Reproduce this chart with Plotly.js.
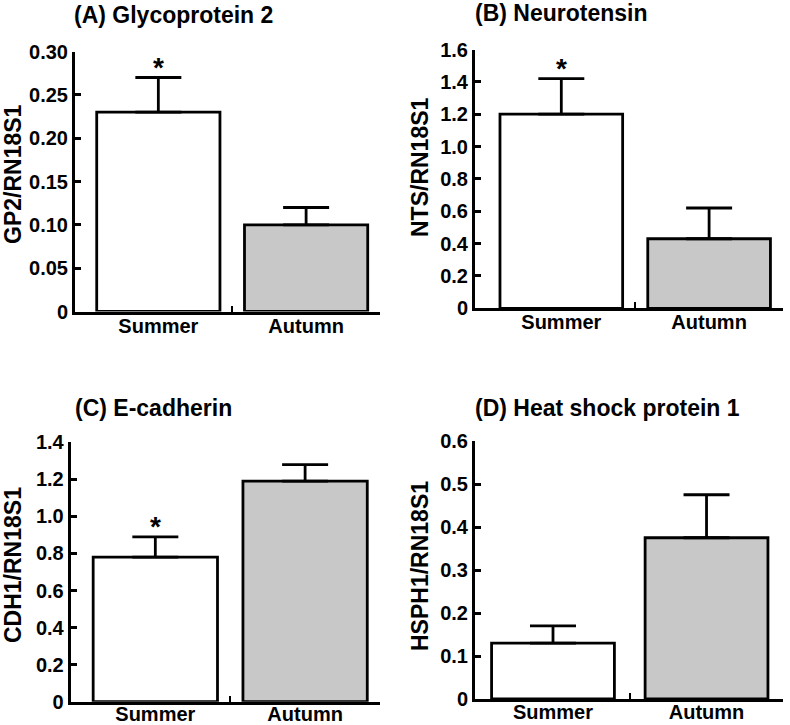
<!DOCTYPE html>
<html>
<head>
<meta charset="utf-8">
<script src="https://cdn.plot.ly/plotly-3.0.1.min.js"></script>
<style>html,body{margin:0;padding:0;background:#fff;}#chart{width:790px;height:725px;}</style>
</head>
<body>
<div id="chart"></div>
<script>
// ---- data ----
const categories = ['Summer', 'Autumn'];

const gp2Mean = [0.23, 0.10];
const gp2Err = [0.04, 0.02];
const gp2Sig = ['*', ''];
const gp2TickVals = [0, 0.05, 0.10, 0.15, 0.20, 0.25, 0.30];
const gp2TickText = ['0', '0.05', '0.10', '0.15', '0.20', '0.25', '0.30'];

const ntsMean = [1.20, 0.43];
const ntsErr = [0.22, 0.19];
const ntsSig = ['*', ''];
const ntsTickVals = [0, 0.2, 0.4, 0.6, 0.8, 1.0, 1.2, 1.4, 1.6];
const ntsTickText = ['0', '0.2', '0.4', '0.6', '0.8', '1.0', '1.2', '1.4', '1.6'];

const cdh1Mean = [0.78, 1.19];
const cdh1Err = [0.11, 0.09];
const cdh1Sig = ['*', ''];
const cdh1TickVals = [0, 0.2, 0.4, 0.6, 0.8, 1.0, 1.2, 1.4];
const cdh1TickText = ['0', '0.2', '0.4', '0.6', '0.8', '1.0', '1.2', '1.4'];

const hsph1Mean = [0.13, 0.375];
const hsph1Err = [0.04, 0.10];
const hsph1Sig = ['', ''];
const hsph1TickVals = [0, 0.1, 0.2, 0.3, 0.4, 0.5, 0.6];
const hsph1TickText = ['0', '0.1', '0.2', '0.3', '0.4', '0.5', '0.6'];

const panelTitles = ['(A) Glycoprotein 2', '(B) Neurotensin', '(C) E-cadherin', '(D) Heat shock protein 1'];
const yTitles = ['GP2/RN18S1', 'NTS/RN18S1', 'CDH1/RN18S1', 'HSPH1/RN18S1'];
const barColors = ['#ffffff', '#c8c8c8'];

// ---- layout helpers (pixel geometry) ----
const W = 790, H = 725;
const fx = p => p / W;
const fy = p => 1 - p / H;
const FONT = 'Liberation Sans, Arial, sans-serif';

const panels = [
  {mean: gp2Mean, err: gp2Err, sig: gp2Sig, tv: gp2TickVals, tt: gp2TickText,
   xpx: [75, 380], ypx: [51.5, 311.5], xr: [-0.564, 1.5], yr: [0, 0.30], bw: 0.834,
   title: [72, 15], ytitle: [13, 174], lab: -6},
  {mean: ntsMean, err: ntsErr, sig: ntsSig, tv: ntsTickVals, tt: ntsTickText,
   xpx: [475, 783], ypx: [49.5, 308.3], xr: [-0.584, 1.5], yr: [0, 1.6], bw: 0.83,
   title: [473, 13], ytitle: [420, 167], lab: -6},
  {mean: cdh1Mean, err: cdh1Err, sig: cdh1Sig, tv: cdh1TickVals, tt: cdh1TickText,
   xpx: [70.7, 380], ypx: [442.3, 701.7], xr: [-0.565, 1.5], yr: [0, 1.4], bw: 0.83,
   title: [73, 408], ytitle: [13, 565], lab: -8},
  {mean: hsph1Mean, err: hsph1Err, sig: hsph1Sig, tv: hsph1TickVals, tt: hsph1TickText,
   xpx: [475, 783.3], ypx: [441, 699], xr: [-0.508, 1.5], yr: [0, 0.6], bw: 0.80,
   title: [473, 408], ytitle: [420, 566], lab: -7}
];
const dividerTicks = [0.5, 1.5];

const data = [];
const layout = {
  width: W, height: H,
  margin: {l: 0, r: 0, t: 0, b: 0},
  paper_bgcolor: '#fff', plot_bgcolor: '#fff',
  showlegend: false,
  font: {family: FONT, color: '#000'},
  annotations: []
};

panels.forEach((p, i) => {
  const n = i + 1;
  const xa = n === 1 ? 'x' : 'x' + n;
  const ya = n === 1 ? 'y' : 'y' + n;
  const xs = categories.map((c, k) => k);
  data.push({
    type: 'bar',
    x: xs,
    y: p.mean,
    width: p.bw,
    xaxis: xa, yaxis: ya,
    marker: {color: barColors, line: {color: '#000', width: 2.8}},
    error_y: {type: 'data', symmetric: false, array: p.err, arrayminus: p.err.map(() => 0),
              color: '#000', thickness: 2.8, width: 23},
    hoverinfo: 'skip'
  });
  layout['xaxis' + (n === 1 ? '' : n)] = {
    domain: [fx(p.xpx[0]), fx(p.xpx[1])],
    anchor: ya,
    range: p.xr,
    tickmode: 'array', tickvals: xs, ticktext: categories,
    ticks: '', showgrid: false, zeroline: false,
    showline: true, linecolor: '#000', linewidth: 3,
    ticklabelstandoff: p.lab,
    tickfont: {family: FONT, size: 20, color: '#000', weight: 'bold'},
    fixedrange: true
  };
  // overlay axis carrying only the small divider ticks between categories
  layout['xaxis' + (n + 4)] = {
    overlaying: xa,
    anchor: ya,
    side: 'bottom',
    range: p.xr,
    tickmode: 'array', tickvals: dividerTicks,
    ticks: 'inside', ticklen: 6, tickwidth: 2.5, tickcolor: '#000',
    showticklabels: false, showline: false, showgrid: false, zeroline: false,
    fixedrange: true
  };
  layout['yaxis' + (n === 1 ? '' : n)] = {
    domain: [fy(p.ypx[1]), fy(p.ypx[0])],
    anchor: xa,
    range: p.yr,
    tickmode: 'array', tickvals: p.tv, ticktext: p.tt,
    ticks: 'inside', ticklen: 6, tickwidth: 3, tickcolor: '#000',
    showgrid: false, zeroline: false,
    showline: true, linecolor: '#000', linewidth: 3,
    tickfont: {family: FONT, size: 20, color: '#000', weight: 'bold'},
    fixedrange: true
  };
  // panel title
  layout.annotations.push({
    xref: 'paper', yref: 'paper', x: fx(p.title[0]), y: fy(p.title[1]),
    xanchor: 'left', yanchor: 'middle', showarrow: false,
    text: panelTitles[i],
    font: {family: FONT, size: 23, color: '#000', weight: 'bold'}
  });
  // y-axis title
  layout.annotations.push({
    xref: 'paper', yref: 'paper', x: fx(p.ytitle[0]), y: fy(p.ytitle[1]),
    xanchor: 'center', yanchor: 'middle', showarrow: false, textangle: -90,
    text: yTitles[i],
    font: {family: FONT, size: 23, color: '#000', weight: 'bold'}
  });
  // significance markers
  p.sig.forEach((s, k) => {
    if (!s) return;
    layout.annotations.push({
      xref: xa, yref: ya, x: xs[k], y: p.mean[k] + p.err[k],
      xanchor: 'center', yanchor: 'middle', yshift: 10, showarrow: false,
      text: s,
      font: {family: FONT, size: 28, color: '#000', weight: 'bold'}
    });
  });
});

// invisible traces so the overlay tick axes are drawn
panels.forEach((p, i) => {
  const n = i + 1;
  data.push({
    type: 'scatter', mode: 'markers', x: [], y: [],
    xaxis: 'x' + (n + 4), yaxis: n === 1 ? 'y' : 'y' + n,
    hoverinfo: 'skip', showlegend: false
  });
});

Plotly.newPlot('chart', data, layout, {displayModeBar: false, staticPlot: true});
</script>
</body>
</html>
